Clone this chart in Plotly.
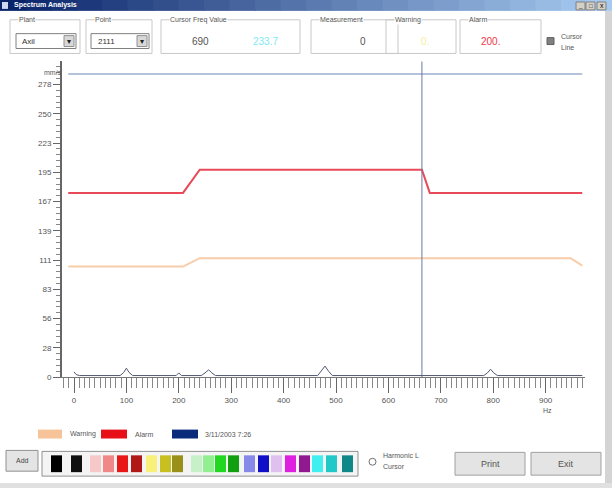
import plotly.graph_objects as go

W, H = 612, 493
FONT = "Liberation Sans"

# ---------------- data ----------------
spec_hz = [0, 4, 10, 88, 95, 100, 105, 112, 195, 200, 205, 243, 250, 257, 263, 270,
           465, 472, 479, 486, 493, 782, 789, 795, 801, 808, 970]
spec_amp = [5, 2.5, 1.5, 1.5, 4.5, 8.5, 4.5, 1.5, 1.5, 4, 1.5, 1.5, 4, 7, 4, 1.5,
            1.5, 5.5, 10.5, 5.5, 1.5, 1.5, 4, 7.5, 4, 1.5, 1.5]

alarm_hz = [-11, 208, 240, 664, 679, 970]
alarm_val = [175, 175, 197, 197, 175, 175]

warning_hz = [-11, 208, 240, 948, 970]
warning_val = [105, 105, 113, 113, 106]

top_hz = [-11, 970]
top_val = [288, 288]

cursor_hz = 664

x_tick_vals = [0, 100, 200, 300, 400, 500, 600, 700, 800, 900]
x_tick_text = ["0", "100", "200", "300", "400", "500", "600", "700", "800", "900"]
y_tick_vals = [0, 27.8, 55.6, 83.4, 111.2, 139, 166.8, 194.6, 222.4, 250.2, 278]
y_tick_text = ["0", "28", "56", "83", "111", "139", "167", "195", "223", "250", "278"]

palette = ["#000000", "#101010", "#f6c8c8", "#f08888", "#e81818", "#b01818",
           "#f8f078", "#c8c020", "#989018", "#c8f0c8", "#90f090", "#20d820",
           "#10a010", "#8888e8", "#1010c8", "#e0c0f0", "#e020e0", "#901890",
           "#40f0f0", "#20c8c8", "#108888"]
palette_x = [51, 71, 90, 103, 117, 131, 146, 160, 172, 191, 203, 215, 228, 244,
             258, 271, 285, 299, 312, 326, 342]

# ---------------- figure ----------------
fig = go.Figure()
fig.add_trace(go.Scatter(x=top_hz, y=top_val, mode="lines",
                         line=dict(color="#b4c2dc", width=2), hoverinfo="skip"))
fig.add_trace(go.Scatter(x=warning_hz, y=warning_val, mode="lines",
                         line=dict(color="#f8cca8", width=2), name="Warning"))
fig.add_trace(go.Scatter(x=alarm_hz, y=alarm_val, mode="lines",
                         line=dict(color="#e84a5a", width=2), name="Alarm"))
fig.add_trace(go.Scatter(x=[cursor_hz, cursor_hz], y=[0, 300], mode="lines",
                         line=dict(color="#6a7aa0", width=1), hoverinfo="skip"))
fig.add_trace(go.Scatter(x=spec_hz, y=spec_amp, mode="lines",
                         line=dict(color="#505870", width=1), name="3/11/2003 7:26"))

shapes = []
ann = []


def rect(x0, y0, x1, y1, fill=None, line=None, lw=1):
    shapes.append(dict(type="rect", xref="paper", yref="paper", layer="above",
                       x0=x0 / W, x1=x1 / W, y0=1 - y1 / H, y1=1 - y0 / H,
                       fillcolor=fill if fill else "rgba(0,0,0,0)",
                       line=dict(color=line if line else "rgba(0,0,0,0)", width=lw)))


def text(x, y, s, size=8, color="#444", anchor="left", bg=None):
    a = dict(xref="paper", yref="paper", x=x / W, y=1 - y / H, text=s, showarrow=False,
             xanchor=anchor, yanchor="middle", font=dict(size=size, color=color, family=FONT))
    if bg:
        a["bgcolor"] = bg
        a["borderpad"] = 0
    ann.append(a)


# title bar gradient
n = 24
c0 = (10, 36, 106)
c1 = (166, 202, 240)
for i in range(n):
    t = i / (n - 1)
    c = tuple(int(c0[k] + (c1[k] - c0[k]) * t) for k in range(3))
    rect(i * W / n, 0, (i + 1) * W / n + 1, 11, fill="rgb(%d,%d,%d)" % c)
text(12, 5.5, "<b>Spectrum Analysis</b>", size=7, color="#ffffff")
rect(2, 2, 8, 9, fill="#d0d8f0")
for bx in (576, 586, 597):
    rect(bx, 2, bx + 9, 10, fill="#d4d0c8", line="#808080")
text(580.5, 6, "_", size=6, color="#000", anchor="center")
text(590.5, 6, "□", size=6, color="#000", anchor="center")
text(601.5, 6, "x", size=7, color="#000", anchor="center")

# window right border / bottom
rect(605, 11, 612, 493, fill="#d4d4d4")
rect(0, 488, 612, 493, fill="#e0e0e0")

# top group boxes
groups = [
    (10, 80, "Plant"), (86, 152, "Point"), (161, 300, "Cursor Freq Value"),
    (311, 398, "Measurement"), (386, 456, "Warning"), (460, 541, "Alarm"),
]
for gx0, gx1, lab in groups:
    rect(gx0, 20, gx1, 54, line="#c8c8c8")
    text(gx0 + 8, 20, lab, size=7, color="#555", bg="#ffffff")

# combos
rect(16, 34, 76, 49, fill="#ffffff", line="#808080")
text(20, 41.5, "Axil", size=8, color="#333")
rect(64, 36, 74, 47, fill="#d8d8d8", line="#909090")
text(69, 41.5, "▾", size=8, color="#222", anchor="center")
rect(91, 34, 149, 49, fill="#ffffff", line="#808080")
text(96, 41.5, "2111", size=8, color="#333")
rect(137, 36, 147, 47, fill="#d8d8d8", line="#909090")
text(142, 41.5, "▾", size=8, color="#222", anchor="center")

# value boxes
text(200, 42, "690", size=10, color="#555", anchor="center")
text(265, 42, "233.7", size=10, color="#80e8f4", anchor="center")
text(363, 42, "0", size=10, color="#555", anchor="center")
text(425, 42, "0.", size=10, color="#f4f0a0", anchor="center")
text(490, 42, "200.", size=10, color="#f03848", anchor="center")

# checkbox
rect(547, 38, 554, 45, fill="#808080", line="#606060")
text(559, 37, "Cursor", size=7, color="#555")
text(559, 48, "Line", size=7, color="#555")

# axis unit labels
text(42, 73, "mm/s", size=7, color="#555")
text(547, 415, "Hz", size=7, color="#555", anchor="center")

# legend
rect(38, 434, 62, 443, fill="#f7c49a")
text(68, 438.5, "Warning", size=7, color="#555")
rect(101, 434, 127, 443, fill="#e81018")
text(133, 438.5, "Alarm", size=7, color="#555")
rect(172, 434, 198, 443, fill="#0a2a7a")
text(203, 438.5, "3/11/2003 7:26", size=7, color="#555")

# Add button
rect(6, 455, 38, 476, fill="#e4e4e4", line="#909090")
text(22, 465.5, "Add", size=7, color="#444", anchor="center")

# palette
rect(42, 456, 358, 481, fill="#f4f4f4", line="#909090")
for px, col in zip(palette_x, palette):
    rect(px, 460, px + 11, 477, fill=col)

# radio
shapes.append(dict(type="circle", xref="paper", yref="paper", layer="above",
                   x0=369 / W, x1=376 / W, y0=1 - 470 / H, y1=1 - 463 / H,
                   line=dict(color="#707070", width=1), fillcolor="#ffffff"))
text(381, 460, "Harmonic L", size=7, color="#555")
text(381, 471, "Cursor", size=7, color="#555")

# buttons
rect(455, 457, 525, 480, fill="#e4e4e4", line="#a0a0a0")
text(490, 468.5, "Print", size=9, color="#555", anchor="center")
rect(531, 457, 601, 480, fill="#e4e4e4", line="#a0a0a0")
text(566, 468.5, "Exit", size=9, color="#555", anchor="center")

fig.update_layout(
    width=W, height=H, autosize=False,
    margin=dict(l=0, r=0, t=0, b=0),
    paper_bgcolor="#ffffff", plot_bgcolor="#ffffff",
    showlegend=False,
    shapes=shapes, annotations=ann,
    xaxis=dict(domain=[62 / W, 585 / W], range=[-22.9, 975.2],
               showgrid=False, zeroline=False,
               showline=True, linecolor="#777", linewidth=1,
               tickmode="array", tickvals=x_tick_vals, ticktext=x_tick_text,
               ticks="outside", ticklen=15, tickcolor="#666", tickwidth=1,
               minor=dict(dtick=10, tick0=0, ticks="outside", ticklen=10, tickcolor="#888"),
               tickfont=dict(size=8, color="#555", family=FONT)),
    yaxis=dict(domain=[1 - 381 / H, 1 - 62 / H], range=[0, 300],
               showgrid=False, zeroline=False,
               showline=True, linecolor="#666", linewidth=2,
               tickmode="array", tickvals=y_tick_vals, ticktext=y_tick_text,
               ticks="outside", ticklen=7, tickcolor="#666", tickwidth=1,
               minor=dict(dtick=5.56, tick0=0, ticks="outside", ticklen=4, tickcolor="#888"),
               tickfont=dict(size=8, color="#555", family=FONT)),
)

fig.write_html("out.html", config={"displayModeBar": False},
               post_script="document.body.style.margin='0';document.body.style.overflow='hidden';")
